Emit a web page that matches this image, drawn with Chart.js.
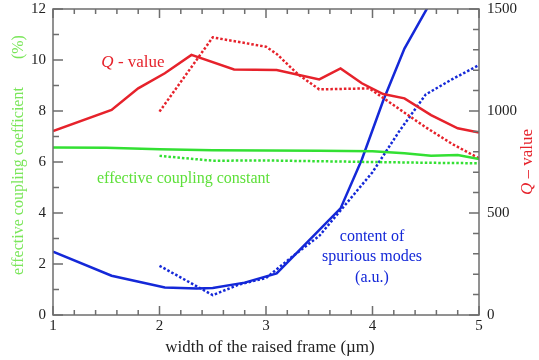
<!DOCTYPE html>
<html>
<head>
<meta charset="utf-8">
<script src="https://cdn.jsdelivr.net/npm/chart.js@4.4.0/dist/chart.umd.min.js"></script>
<style>
  html, body { margin: 0; padding: 0; background: #fff; }
  #wrap { width: 539px; height: 360px; }
</style>
</head>
<body>
<div id="wrap"><canvas id="chart"></canvas></div>
<script>
// axis ranges / tick steps
const widthRange = [1, 5];
const couplingRange = [0, 12];
const qRange = [0, 1500];

// Q-value (right axis), solid and dotted
const qSolidX = [1, 1.55, 1.8, 2.05, 2.3, 2.7, 3.1, 3.5, 3.7, 3.9, 4.1, 4.3, 4.55, 4.8, 5];
const qSolidY = [902, 1005, 1111, 1185, 1275, 1204, 1201, 1155, 1209, 1136, 1083, 1062, 980, 915, 894];
const qDotX = [2, 2.5, 3, 3.1, 3.3, 3.5, 3.97, 4.25, 4.5, 4.75, 5];
const qDotY = [997, 1361, 1315, 1280, 1180, 1106, 1111, 1010, 920, 838, 768];

// effective coupling coefficient (%), left axis
const kSolidX = [1, 1.5, 2, 2.5, 3, 3.5, 4, 4.3, 4.55, 4.8, 5];
const kSolidY = [6.57, 6.56, 6.5, 6.46, 6.45, 6.44, 6.42, 6.34, 6.25, 6.27, 6.12];
const kDotX = [2, 2.5, 3, 3.5, 4, 4.5, 5];
const kDotY = [6.24, 6.05, 6.06, 6.03, 6.0, 5.97, 5.95];

// content of spurious modes (a.u.), left axis
const sSolidX = [1, 1.55, 2.05, 2.35, 2.5, 2.8, 3.1, 3.7, 3.9, 4.1, 4.3, 4.55];
const sSolidY = [2.48, 1.54, 1.08, 1.04, 1.06, 1.27, 1.63, 4.18, 6.1, 8.4, 10.45, 12.3];
const sDotX = [2, 2.5, 2.75, 3, 3.25, 3.5, 3.7, 4, 4.25, 4.5, 4.75, 5];
const sDotY = [1.93, 0.78, 1.2, 1.45, 2.3, 3.1, 4.1, 5.6, 7.2, 8.65, 9.25, 9.8];

const RED = '#e6222b';
const GREEN = '#33e033';
const BLUE = '#1428d8';
const SERIF = '"Liberation Serif", serif';

function pts(xs, ys) {
  return xs.map((x, i) => ({ x: x, y: ys[i] }));
}

function series(xs, ys, color, axis, dotted) {
  return {
    data: pts(xs, ys),
    yAxisID: axis,
    borderColor: color,
    borderWidth: 2.5,
    borderDash: dotted ? [2.5, 2] : [],
    pointRadius: 0,
    tension: 0,
    fill: false,
  };
}

// box around the plot with inward tick marks on all four sides
const frameTicks = {
  id: 'frameTicks',
  afterDatasetsDraw(chart) {
    const { ctx, chartArea: a, scales } = chart;
    ctx.save();
    ctx.strokeStyle = '#6e6e6e';
    ctx.lineWidth = 1.5;
    ctx.strokeRect(a.left, a.top, a.right - a.left, a.bottom - a.top);
    ctx.beginPath();
    for (let i = 0; i <= 20; i++) {
      const px = scales.x.getPixelForValue(widthRange[0] + i * 0.2);
      const len = i % 5 === 0 ? 9 : 5;
      ctx.moveTo(px, a.bottom); ctx.lineTo(px, a.bottom - len);
      ctx.moveTo(px, a.top); ctx.lineTo(px, a.top + len);
    }
    for (let v = couplingRange[0]; v <= couplingRange[1]; v++) {
      const py = scales.y.getPixelForValue(v);
      const len = v % 2 === 0 ? 10 : 6;
      ctx.moveTo(a.left, py); ctx.lineTo(a.left + len, py);
    }
    for (let v = qRange[0]; v <= qRange[1]; v += 100) {
      const py = scales.yQ.getPixelForValue(v);
      const len = v % 500 === 0 ? 10 : 6;
      ctx.moveTo(a.right, py); ctx.lineTo(a.right - len, py);
    }
    ctx.stroke();
    ctx.restore();
  }
};

// draws "Q - value" style text with an italic Q
function qText(ctx, x, y, rest, size) {
  ctx.font = 'italic ' + size + 'px ' + SERIF;
  const wq = ctx.measureText('Q').width;
  ctx.font = size + 'px ' + SERIF;
  const wr = ctx.measureText(rest).width;
  const start = x - (wq + wr) / 2;
  ctx.textAlign = 'left';
  ctx.font = 'italic ' + size + 'px ' + SERIF;
  ctx.fillText('Q', start, y);
  ctx.font = size + 'px ' + SERIF;
  ctx.fillText(rest, start + wq, y);
}

// axis titles and curve labels
const labels = {
  id: 'labels',
  afterDraw(chart) {
    const { ctx, chartArea: a } = chart;
    ctx.save();
    ctx.textBaseline = 'middle';

    ctx.fillStyle = '#222';
    ctx.textAlign = 'center';
    ctx.font = '17px ' + SERIF;
    ctx.fillText('width of the raised frame (\u00b5m)', (a.left + a.right) / 2 + 4, 348);

    ctx.save();
    ctx.translate(19, 155);
    ctx.rotate(-Math.PI / 2);
    ctx.fillStyle = '#7ae65a';
    ctx.font = '16px ' + SERIF;
    ctx.fillText('effective coupling coefficient       (%)', 0, 0);
    ctx.restore();

    ctx.save();
    ctx.translate(528, (a.top + a.bottom) / 2);
    ctx.rotate(-Math.PI / 2);
    ctx.fillStyle = RED;
    qText(ctx, 0, 0, ' \u2013 value', 17);
    ctx.restore();

    ctx.fillStyle = RED;
    qText(ctx, 133, 63, ' - value', 17);

    ctx.fillStyle = '#5ee03a';
    ctx.textAlign = 'left';
    ctx.font = '16px ' + SERIF;
    ctx.fillText('effective coupling constant', 97, 179);

    ctx.fillStyle = BLUE;
    ctx.textAlign = 'center';
    ctx.fillText('content of', 372, 237);
    ctx.fillText('spurious modes', 372, 257);
    ctx.fillText('(a.u.)', 372, 278);
    ctx.restore();
  }
};

const tickFont = { family: 'Liberation Serif', size: 15 };
const plainNumber = (v) => String(v);
const noGrid = { display: false, drawTicks: false };

// fixed axis box sizes so the plot area lands where it should
function fixWidth(w) {
  return (s) => { s.width = w; s.paddingTop = 0; s.paddingBottom = 0; };
}

new Chart(document.getElementById('chart'), {
  type: 'line',
  data: {
    datasets: [
      series(kSolidX, kSolidY, GREEN, 'y', false),
      series(kDotX, kDotY, GREEN, 'y', true),
      series(qSolidX, qSolidY, RED, 'yQ', false),
      series(qDotX, qDotY, RED, 'yQ', true),
      series(sSolidX, sSolidY, BLUE, 'y', false),
      series(sDotX, sDotY, BLUE, 'y', true),
    ],
  },
  options: {
    responsive: true,
    maintainAspectRatio: false,
    animation: false,
    layout: { padding: { top: 9 } },
    plugins: {
      legend: { display: false },
      tooltip: { enabled: false },
    },
    scales: {
      x: {
        type: 'linear',
        min: widthRange[0],
        max: widthRange[1],
        grid: noGrid,
        border: { display: false },
        ticks: { stepSize: 1, padding: 2, color: '#222', font: tickFont, callback: plainNumber },
        afterFit(s) { s.height = 45; s.paddingLeft = 0; s.paddingRight = 0; },
      },
      y: {
        position: 'left',
        min: couplingRange[0],
        max: couplingRange[1],
        grid: noGrid,
        border: { display: false },
        ticks: { stepSize: 2, padding: 7, color: '#222', font: tickFont, callback: plainNumber },
        afterFit: fixWidth(53),
      },
      yQ: {
        position: 'right',
        min: qRange[0],
        max: qRange[1],
        grid: noGrid,
        border: { display: false },
        ticks: { stepSize: 500, padding: 8, color: '#222', font: tickFont, callback: plainNumber },
        afterFit: fixWidth(60),
      },
    },
  },
  plugins: [frameTicks, labels],
});
</script>
</body>
</html>
